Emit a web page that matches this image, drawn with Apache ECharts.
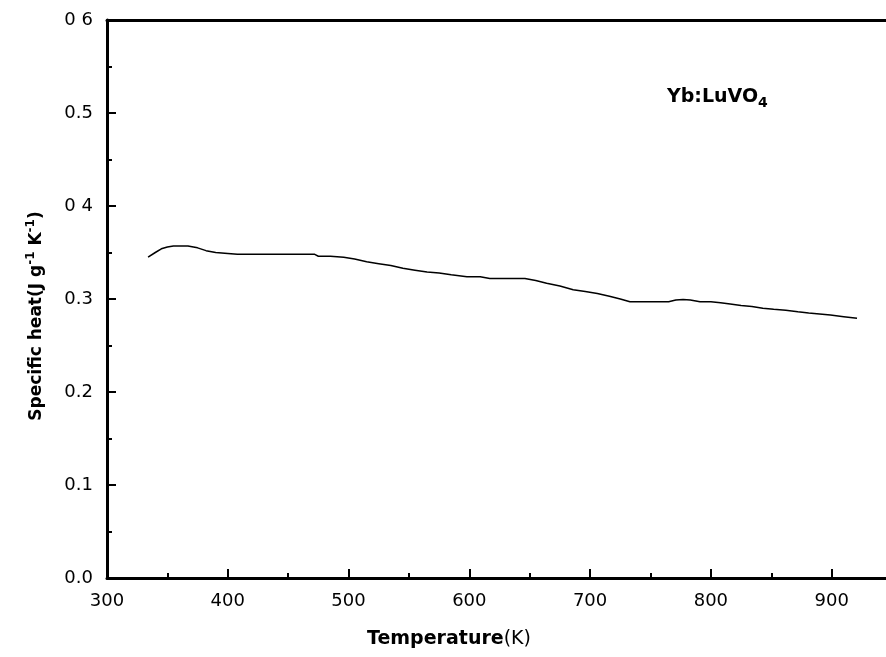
<!DOCTYPE html>
<html>
<head>
<meta charset="utf-8">
<script src="https://cdn.jsdelivr.net/npm/echarts@6/dist/echarts.min.js"></script>
<style>html,body{margin:0;padding:0;background:#fff;}#c{width:886px;height:657px;}</style>
</head>
<body>
<div id="c"></div>
<script>
// Temperature (K)
const temps = [334,340,345,350,355,360,367,375,382,390,400,408,420,440,460,472,475,485,496,505,515,525,535,545,555,565,575,585,598,609,617,630,646,655,664,675,686,696,706,716,725,733,745,755,765,771,777,783,791,800,808,816,825,834,843,852,862,872,881,890,899,910,921];
// Specific heat (J g^-1 K^-1)
const heat = [0.345,0.350,0.354,0.356,0.357,0.357,0.357,0.355,0.352,0.350,0.349,0.348,0.348,0.348,0.348,0.348,0.346,0.346,0.345,0.343,0.340,0.338,0.336,0.333,0.331,0.329,0.328,0.326,0.324,0.324,0.322,0.322,0.322,0.320,0.317,0.314,0.310,0.308,0.306,0.303,0.300,0.297,0.297,0.297,0.297,0.299,0.2995,0.299,0.297,0.297,0.296,0.2946,0.293,0.292,0.290,0.289,0.288,0.2864,0.285,0.284,0.2828,0.281,0.2792];
const yTickLabels = ["0.0","0.1","0.2","0.3","0 4","0.5","0 6"];
const xTickValues = [300,400,500,600,700,800,900];
const xMinorValues = [350,450,550,650,750,850];
const xTickLabels = ["300","400","500","600","700","800","900"];
const sampleLabel = "Yb:LuVO";

const chart = echarts.init(document.getElementById('c'), null, {renderer:'canvas'});
const F = 'DejaVu Sans';
const X_MIN = 300, X_MAX = 945;
chart.setOption({
  animation: false,
  backgroundColor: '#fff',
  grid: {left: 107, top: 20, bottom: 79, right: 0},
  xAxis: [{
    type: 'value', min: X_MIN, max: X_MAX, position: 'bottom',
    axisLine: {show: true, lineStyle: {color: '#000', width: 3}},
    axisTick: {show: true, inside: true, length: 9, customValues: xTickValues, lineStyle: {color: '#000', width: 2}},
    splitLine: {show: false},
    axisLabel: {color: '#000', fontFamily: F, fontSize: 18, margin: 14, customValues: xTickValues,
      formatter: function(v){ const i = xTickValues.indexOf(Math.round(v)); return i >= 0 ? xTickLabels[i] : ''; }}
  }, {
    type: 'value', min: X_MIN, max: X_MAX, position: 'bottom',
    axisLine: {show: false},
    axisTick: {show: true, inside: true, length: 5, customValues: xMinorValues, lineStyle: {color: '#000', width: 2}},
    axisLabel: {show: false},
    splitLine: {show: false}
  }, {
    type: 'value', min: X_MIN, max: X_MAX, position: 'top',
    axisLine: {show: true, lineStyle: {color: '#000', width: 3}},
    axisTick: {show: false},
    axisLabel: {show: false},
    splitLine: {show: false}
  }],
  yAxis: {
    type: 'value', min: 0, max: 0.6, interval: 0.1,
    axisLine: {show: true, lineStyle: {color: '#000', width: 3}},
    axisTick: {show: true, inside: true, length: 9, lineStyle: {color: '#000', width: 2}},
    minorTick: {show: true, splitNumber: 2, length: 5, lineStyle: {color: '#000', width: 2}},
    splitLine: {show: false},
    axisLabel: {color: '#000', fontFamily: F, fontSize: 18, margin: 14,
      formatter: function(v){ const i = Math.round(v*10); return yTickLabels[i] || ''; }}
  },
  series: [{
    type: 'line', xAxisIndex: 0, showSymbol: false, symbol: 'none',
    data: temps.map((t,i)=>[t, heat[i]]),
    lineStyle: {color: '#000', width: 1.5}
  }],
  graphic: [
    {type: 'text', left: 367, top: 630, style: {
      text: '{b|Temperature}{r|(K)}', rich: {
        b: {fontFamily: F, fontWeight: 'bold', fontSize: 19, fill: '#000'},
        r: {fontFamily: F, fontSize: 19, fill: '#000'}
      }}},
    {type: 'text', x: 37, y: 316, rotation: Math.PI/2, style: {
      text: '{b|Specific heat(J g}{s|-1}{b| K}{s|-1}{b|)}', align: 'center', verticalAlign: 'middle', rich: {
        b: {fontFamily: F, fontWeight: 'bold', fontSize: 17, fill: '#000'},
        s: {fontFamily: F, fontWeight: 'bold', fontSize: 12, fill: '#000', padding: [0,0,12,0]}
      }}},
    {type: 'text', left: 667, top: 88, style: {
      text: '{b|' + sampleLabel + '}{s|4}', rich: {
        b: {fontFamily: F, fontWeight: 'bold', fontSize: 19, fill: '#000'},
        s: {fontFamily: F, fontWeight: 'bold', fontSize: 14, fill: '#000', padding: [12,0,0,0]}
      }}}
  ]
});
</script>
</body>
</html>
